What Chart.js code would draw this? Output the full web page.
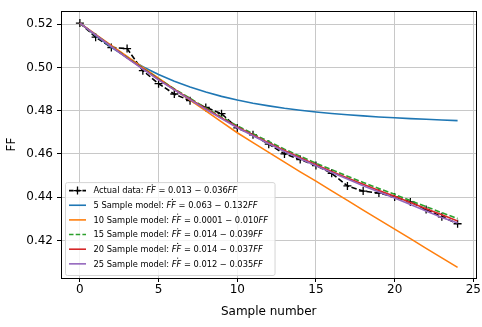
<!DOCTYPE html>
<html>
<head>
<meta charset="utf-8">
<script src="https://cdn.jsdelivr.net/npm/chart.js@4"></script>
<style>
html,body{margin:0;padding:0;background:#fff;}
#wrap{width:482px;height:327px;}
</style>
</head>
<body>
<div id="wrap"><canvas id="c" width="482" height="327"></canvas></div>
<script>
const samples = [0,1,2,3,4,5,6,7,8,9,10,11,12,13,14,15,16,17,18,19,20,21,22,23,24];
const xTicks = [0,5,10,15,20,25];
const yTicks = [0.42,0.44,0.46,0.48,0.50,0.52];

const actualData = [0.5205,0.5140,0.5092,0.5087,0.4985,0.4925,0.4877,0.4846,0.4815,0.4786,0.4720,0.4688,0.4645,0.4600,0.4574,0.4546,0.4510,0.4452,0.4428,0.4419,0.4401,0.4378,0.4343,0.4309,0.4277];
const model5  = [0.5205,0.5147,0.5093,0.5045,0.5003,0.4967,0.4936,0.4909,0.4886,0.4866,0.4849,0.4834,0.4822,0.4811,0.4802,0.4794,0.4787,0.4781,0.4776,0.4771,0.4767,0.4763,0.4760,0.4757,0.4754];
const model10 = [0.5205,0.5153,0.5102,0.5051,0.5000,0.4950,0.4899,0.4849,0.4799,0.4748,0.4698,0.4652,0.4607,0.4562,0.4517,0.4474,0.4429,0.4385,0.4340,0.4296,0.4252,0.4208,0.4163,0.4119,0.4075];
const model15 = [0.5205,0.5151,0.5098,0.5046,0.4996,0.4947,0.4901,0.4857,0.4813,0.4771,0.4730,0.4693,0.4657,0.4622,0.4589,0.4557,0.4527,0.4497,0.4468,0.4440,0.4413,0.4384,0.4356,0.4328,0.4301];
const model20 = [0.5205,0.5150,0.5097,0.5044,0.4994,0.4944,0.4898,0.4853,0.4809,0.4766,0.4725,0.4688,0.4651,0.4616,0.4582,0.4550,0.4519,0.4489,0.4460,0.4431,0.4404,0.4375,0.4346,0.4318,0.4290];
const model25 = [0.5205,0.5150,0.5096,0.5043,0.4992,0.4942,0.4896,0.4851,0.4806,0.4763,0.4721,0.4684,0.4647,0.4611,0.4578,0.4545,0.4514,0.4484,0.4453,0.4424,0.4396,0.4366,0.4336,0.4306,0.4280];

const legendPrefix = ['Actual data: ','5 Sample model: ','10 Sample model: ','15 Sample model: ','20 Sample model: ','25 Sample model: '];
const legendA = ['0.013','0.063','0.0001','0.014','0.014','0.012'];
const legendB = ['0.036','0.132','0.010','0.039','0.037','0.035'];

const FONT = '"DejaVu Sans", sans-serif';

const framePlugin = {
  id: 'frame',
  afterDatasetsDraw(chart) {
    const ctx = chart.ctx, a = chart.chartArea;
    ctx.save();
    ctx.strokeStyle = '#000';
    ctx.lineWidth = 1;
    ctx.strokeRect(Math.round(a.left) + 0.5, Math.round(a.top) + 0.5, Math.round(a.right - a.left), Math.round(a.bottom - a.top));
    ctx.restore();

    // legend (matplotlib style, with math text)
    const fs = 8.3;
    const nf = fs + 'px ' + FONT, itf = 'italic ' + fs + 'px ' + FONT;
    const rows = chart.data.datasets.map((ds, i) => [
      {t: legendPrefix[i], f: nf},
      {t: 'FF', f: itf, dot: true},
      {t: ' = ' + legendA[i] + ' \u2212 ' + legendB[i], f: nf},
      {t: 'FF', f: itf}
    ]);
    ctx.save();
    let maxW = 0;
    rows.forEach(r => { let w = 0; r.forEach(s => { ctx.font = s.f; w += ctx.measureText(s.t).width; }); maxW = Math.max(maxW, w); });
    const bx = a.left + 4, rowH = 14.65;
    const bh = rows.length * rowH + 5;
    const by = a.bottom - 3 - bh;
    const bw = 28 + maxW + 7;
    ctx.beginPath();
    if (ctx.roundRect) ctx.roundRect(bx + 0.5, by + 0.5, bw, bh, 2); else ctx.rect(bx + 0.5, by + 0.5, bw, bh);
    ctx.fillStyle = 'rgba(255,255,255,0.8)';
    ctx.fill();
    ctx.strokeStyle = '#d4d4d4';
    ctx.lineWidth = 1;
    ctx.stroke();
    chart.data.datasets.forEach((ds, i) => {
      const cy = by + 8.5 + i * rowH;
      ctx.save();
      ctx.strokeStyle = ds.borderColor;
      ctx.lineWidth = 1.6;
      ctx.setLineDash(ds.borderDash && ds.borderDash.length ? [4.5, 2.2] : []);
      ctx.beginPath(); ctx.moveTo(bx + 4, cy); ctx.lineTo(bx + 21, cy); ctx.stroke();
      ctx.setLineDash([]);
      if (ds.pointRadius > 0) {
        ctx.lineWidth = 1.3;
        ctx.beginPath();
        ctx.moveTo(bx + 12.5, cy - 4); ctx.lineTo(bx + 12.5, cy + 4);
        ctx.moveTo(bx + 8.5, cy); ctx.lineTo(bx + 16.5, cy);
        ctx.stroke();
      }
      ctx.restore();
      let tx = bx + 28.5;
      ctx.fillStyle = '#000';
      ctx.textBaseline = 'middle';
      rows[i].forEach(s => {
        ctx.font = s.f;
        const w = ctx.measureText(s.t).width;
        ctx.fillText(s.t, tx, cy + 0.5);
        if (s.dot) {
          ctx.beginPath();
          ctx.arc(tx + w / 2 + 1.2, cy - 5.8, 0.6, 0, Math.PI * 2);
          ctx.fill();
        }
        tx += w;
      });
    });
    ctx.restore();
  }
};

const xy = arr => arr.map((v, i) => ({x: samples[i], y: v}));

const lineDs = (label, data, color, extra) => Object.assign({
  label: label, data: xy(data), borderColor: color, backgroundColor: color,
  borderWidth: 1.6, pointRadius: 0, fill: false, tension: 0
}, extra || {});

new Chart(document.getElementById('c'), {
  type: 'line',
  data: {
    datasets: [
      lineDs('Actual data', actualData, '#000000', {borderDash: [5.5, 2.4], pointStyle: 'cross', pointRadius: 4, pointBorderWidth: 1.3, pointBorderColor: '#000', order: 6}),
      lineDs('5 Sample model', model5, '#1f77b4', {order: 5}),
      lineDs('10 Sample model', model10, '#ff7f0e', {order: 4}),
      lineDs('15 Sample model', model15, '#2ca02c', {borderDash: [5.5, 2.4], order: 3}),
      lineDs('20 Sample model', model20, '#d62728', {order: 2}),
      lineDs('25 Sample model', model25, '#9467bd', {order: 1})
    ]
  },
  options: {
    responsive: false,
    animation: false,
    events: [],
    layout: {padding: {top: 8, right: 5, left: 0, bottom: 0}},
    plugins: {legend: {display: false}, tooltip: {enabled: false}},
    scales: {
      x: {
        type: 'linear', min: -1.2, max: 25.2,
        afterBuildTicks: s => { s.ticks = xTicks.map(v => ({value: v})); },
        afterFit: s => { s.height = 49; },
        grid: {color: '#c8c8c8', lineWidth: 1, tickColor: '#000', tickLength: 4, drawTicks: true},
        border: {display: false},
        ticks: {color: '#000', font: {family: FONT, size: 12}, padding: 1, maxRotation: 0,
                callback: v => String(v)},
        title: {display: true, text: 'Sample number', color: '#000', font: {family: FONT, size: 12}, padding: {top: 0, bottom: 8}}
      },
      y: {
        type: 'linear', min: 0.4026, max: 0.5260,
        afterBuildTicks: s => { s.ticks = yTicks.map(v => ({value: v})); },
        afterFit: s => { s.width = 61; },
        grid: {color: '#c8c8c8', lineWidth: 1, tickColor: '#000', tickLength: 4, drawTicks: true},
        border: {display: false},
        ticks: {color: '#000', font: {family: FONT, size: 12}, padding: 4,
                callback: v => v.toFixed(2)},
        title: {display: true, text: 'FF', color: '#000', font: {family: FONT, size: 12}, padding: {top: 5, bottom: 0}}
      }
    }
  },
  plugins: [framePlugin]
});
</script>
</body>
</html>
